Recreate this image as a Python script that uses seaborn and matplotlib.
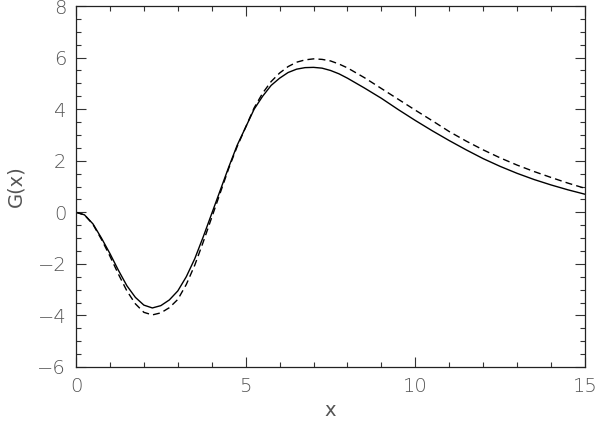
import numpy as np
import pandas as pd
import matplotlib
matplotlib.use("Agg")
import matplotlib.pyplot as plt
from matplotlib.ticker import MultipleLocator
import seaborn as sns

# values
x_vals = [0.0, 0.25, 0.5, 0.75, 1.0, 1.25, 1.5, 1.75, 2.0, 2.25, 2.5, 2.75,
          3.0, 3.25, 3.5, 3.75, 4.0, 4.25, 4.5, 4.75, 5.0, 5.25, 5.5, 5.75,
          6.0, 6.25, 6.5, 6.75, 7.0, 7.25, 7.5, 7.75,
          8.0, 8.5, 9.0, 9.5, 10.0, 10.5, 11.0, 11.5, 12.0, 12.5, 13.0,
          13.5, 14.0, 14.5, 15.0]
g_solid = [0.0, -0.1, -0.45, -1.0, -1.6, -2.25, -2.85, -3.3, -3.6, -3.71, -3.62, -3.4,
           -3.05, -2.5, -1.8, -0.95, -0.05, 0.85, 1.75, 2.6, 3.3, 4.0, 4.5, 4.92,
           5.2, 5.42, 5.55, 5.61, 5.62, 5.59, 5.5, 5.37,
           5.2, 4.82, 4.42, 3.98, 3.56, 3.16, 2.78, 2.42, 2.08, 1.78, 1.51,
           1.27, 1.06, 0.87, 0.7]
g_dashed = [0.0, -0.1, -0.47, -1.05, -1.7, -2.4, -3.05, -3.55, -3.88, -3.98, -3.9, -3.7,
            -3.38, -2.8, -2.05, -1.15, -0.2, 0.75, 1.7, 2.55, 3.3, 4.05, 4.62, 5.07,
            5.4, 5.65, 5.82, 5.91, 5.95, 5.93, 5.87, 5.75,
            5.6, 5.22, 4.8, 4.38, 3.96, 3.55, 3.13, 2.76, 2.42, 2.11, 1.83,
            1.58, 1.35, 1.13, 0.93]

df = pd.DataFrame({
    "x": x_vals * 2,
    "G": g_solid + g_dashed,
    "curve": ["solid"] * len(x_vals) + ["dashed"] * len(x_vals),
})

sns.set_style("ticks")
plt.rcParams["font.family"] = ["DejaVu Sans"]
plt.rcParams["font.weight"] = "light"
txt = "#555555"

fig = plt.figure(figsize=(6, 4.24), dpi=100)
ax = fig.add_axes([76 / 600, 57 / 424, 509 / 600, 361 / 424])

sns.lineplot(data=df, x="x", y="G", style="curve", style_order=["solid", "dashed"],
             dashes={"solid": "", "dashed": (5, 3)}, color="black", linewidth=1.0,
             legend=False, sort=False, ax=ax)
for ln in ax.lines:
    ln.set_solid_joinstyle("round")
    ln.set_dash_joinstyle("round")

ax.set_xlim(0, 15)
ax.set_ylim(-6, 8)
ax.xaxis.set_major_locator(MultipleLocator(5))
ax.xaxis.set_minor_locator(MultipleLocator(1))
ax.yaxis.set_major_locator(MultipleLocator(2))
ax.yaxis.set_minor_locator(MultipleLocator(0.5))
ax.tick_params(which="both", direction="in", top=True, right=True,
               color="#333333", width=0.8, labelsize=14, labelcolor=txt)
ax.tick_params(which="major", length=7, pad=7)
ax.tick_params(which="minor", length=3.6)
for s in ax.spines.values():
    s.set_linewidth(0.9)
    s.set_color("#222222")

ax.set_xlabel("x", fontsize=14, color=txt, labelpad=4)
ax.set_ylabel("G(x)", fontsize=14, color=txt, labelpad=9)

fig.savefig("out.png", dpi=100)
